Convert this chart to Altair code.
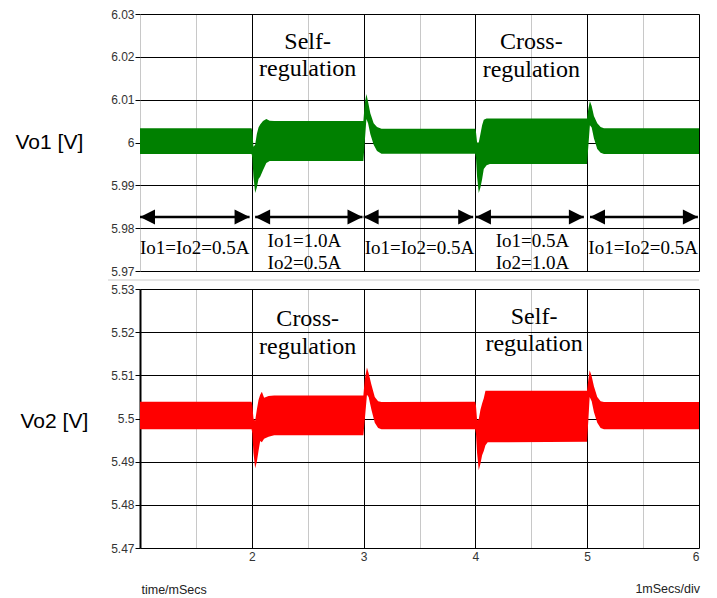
import altair as alt
import pandas as pd

# ---------------- data ----------------
# Vo1 ripple envelope (lower / upper edge of the dense waveform)
t1 = [1.0, 1.998, 2.005, 2.015, 2.03, 2.045, 2.06, 2.075, 2.1, 2.13, 2.16, 2.2,
      2.998, 3.01, 3.025, 3.04, 3.06, 3.09, 3.12, 3.16,
      3.998, 4.005, 4.015, 4.03, 4.045, 4.06, 4.075, 4.1, 4.13,
      4.998, 5.01, 5.024, 5.04, 5.06, 5.09, 5.12, 5.15, 6.0]
vo1_lo = [5.9973, 5.9973, 5.9965, 5.9920, 5.9882, 5.9895, 5.9915, 5.9920, 5.9935, 5.9952, 5.9957, 5.9957,
          5.9957, 6.0000, 6.0055, 6.0045, 6.0020, 5.9995, 5.9980, 5.9974,
          5.9974, 5.9965, 5.9920, 5.9882, 5.9895, 5.9914, 5.9938, 5.9947, 5.9950,
          5.9950, 5.9990, 6.0040, 6.0035, 6.0010, 5.9985, 5.9976, 5.9973, 5.9973]
vo1_hi = [6.0033, 6.0033, 6.0025, 5.9990, 5.9995, 6.0020, 6.0035, 6.0042, 6.0050, 6.0055, 6.0051, 6.0050,
          6.0050, 6.0090, 6.0113, 6.0095, 6.0068, 6.0045, 6.0036, 6.0032,
          6.0032, 6.0025, 6.0000, 6.0000, 6.0020, 6.0040, 6.0053, 6.0056, 6.0056,
          6.0056, 6.0078, 6.0097, 6.0085, 6.0062, 6.0045, 6.0036, 6.0033, 6.0033]

# Vo2 ripple envelope
t2 = [1.0, 1.998, 2.005, 2.015, 2.03, 2.045, 2.06, 2.075, 2.09, 2.11, 2.15, 2.2,
      2.998, 3.01, 3.03, 3.045, 3.07, 3.1, 3.13, 3.16,
      3.998, 4.005, 4.015, 4.03, 4.045, 4.06, 4.075, 4.09, 4.11,
      4.998, 5.01, 5.022, 5.04, 5.06, 5.09, 5.12, 5.15, 6.0]
vo2_lo = [5.4975, 5.4975, 5.4965, 5.4920, 5.4885, 5.4900, 5.4925, 5.4948, 5.4945, 5.4953, 5.4958, 5.4961,
          5.4961, 5.4995, 5.5055, 5.5050, 5.5020, 5.4990, 5.4978, 5.4975,
          5.4975, 5.4965, 5.4920, 5.4880, 5.4895, 5.4915, 5.4925, 5.4938, 5.4945,
          5.4946, 5.4995, 5.5050, 5.5040, 5.5015, 5.4990, 5.4978, 5.4975, 5.4975]
vo2_hi = [5.5039, 5.5039, 5.5030, 5.5000, 5.4995, 5.5020, 5.5043, 5.5055, 5.5062, 5.5048, 5.5052, 5.5053,
          5.5053, 5.5090, 5.5118, 5.5105, 5.5078, 5.5050, 5.5040, 5.5038,
          5.5039, 5.5030, 5.4996, 5.4998, 5.5020, 5.5035, 5.5047, 5.5064, 5.5064,
          5.5064, 5.5090, 5.5112, 5.5098, 5.5075, 5.5050, 5.5040, 5.5038, 5.5038]

# load-step interval arrows and labels (top panel)
arrow_start = [1.0, 2.03, 3.0, 4.005, 5.025]
arrow_end = [1.98, 2.99, 3.98, 4.97, 5.99]
arrow_y = [5.9826, 5.9826, 5.9826, 5.9826, 5.9826]

load_x = [1.49, 2.47, 2.47, 3.5, 4.51, 4.51, 5.5]
load_y = [5.9754, 5.9769, 5.9719, 5.9754, 5.9769, 5.9719, 5.9754]
load_text = ["Io1=Io2=0.5A", "Io1=1.0A", "Io2=0.5A", "Io1=Io2=0.5A",
             "Io1=0.5A", "Io2=1.0A", "Io1=Io2=0.5A"]

# regulation annotations
top_ann_x = [2.5, 2.5, 4.5, 4.5]
top_ann_y = [6.0235, 6.0171, 6.0235, 6.0169]
top_ann_text = ["Self-", "regulation", "Cross-", "regulation"]
bot_ann_x = [2.5, 2.5, 4.525, 4.525]
bot_ann_y = [5.5231, 5.5165, 5.5236, 5.5172]
bot_ann_text = ["Cross-", "regulation", "Self-", "regulation"]

vo1_ticks = [5.97, 5.98, 5.99, 6.0, 6.01, 6.02, 6.03]
vo2_ticks = [5.47, 5.48, 5.49, 5.5, 5.51, 5.52, 5.53]
x_ticks = [1, 1.5, 2, 2.5, 3, 3.5, 4, 4.5, 5, 5.5, 6]

# ---------------- chart ----------------
SANS = "Liberation Sans"
SERIF = "Liberation Serif"
W = 559

df1 = pd.DataFrame({"t": t1, "lo": vo1_lo, "hi": vo1_hi})
df2 = pd.DataFrame({"t": t2, "lo": vo2_lo, "hi": vo2_hi})
arr = pd.DataFrame({"x1": arrow_start, "x2": arrow_end, "y": arrow_y})
lab = pd.DataFrame({"x": load_x, "y": load_y, "text": load_text})
ann1 = pd.DataFrame({"x": top_ann_x, "y": top_ann_y, "text": top_ann_text})
ann2 = pd.DataFrame({"x": bot_ann_x, "y": bot_ann_y, "text": bot_ann_text})

grid_color = alt.condition("datum.value > 1.25 && datum.value % 1 === 0",
                           alt.value("#000000"), alt.value("#c8c8c8"))

x_top = alt.X("t:Q", scale=alt.Scale(domain=[1, 6], nice=False, zero=False),
              axis=alt.Axis(values=x_ticks, labels=False, ticks=False, domain=False,
                            title=None, gridColor=grid_color, gridWidth=1, gridOpacity=1))
x_bot = alt.X("t:Q", scale=alt.Scale(domain=[1, 6], nice=False, zero=False),
              axis=alt.Axis(values=x_ticks, ticks=False, domain=False, format="~g",
                            labelExpr="datum.value > 1.25 && datum.value % 1 === 0 ? datum.label : ''",
                            labelFont=SANS, labelFontSize=12, labelColor="#333333", labelPadding=3,
                            title="time/mSecs", titleFont=SANS, titleFontSize=12.5,
                            titleFontWeight="normal", titleColor="#222222",
                            titleAnchor="start", titleAlign="left", titleBaseline="middle",
                            titleX=1, titleY=41,
                            gridColor=grid_color, gridWidth=1, gridOpacity=1))


def y_enc(domain, ticks, title, title_x, title_y, domain_line):
    return alt.Y("lo:Q", scale=alt.Scale(domain=domain, nice=False, zero=False),
                 axis=alt.Axis(values=ticks, format=".3~r", labelFont=SANS, labelFontSize=12,
                               labelColor="#333333", labelPadding=1, tickSize=5,
                               tickColor="#000000", gridColor="#000000", gridWidth=1,
                               gridOpacity=1, domain=domain_line, domainColor="#000000",
                               domainWidth=2, title=title, titleAngle=0, titleFont=SANS,
                               titleFontSize=21, titleFontWeight="normal",
                               titleColor="#000000", titleAlign="left",
                               titleBaseline="middle", titleX=title_x, titleY=title_y))


top_area = alt.Chart(df1).mark_area(color="#008000", opacity=1).encode(
    x=x_top,
    y=y_enc([5.97, 6.03], vo1_ticks, "Vo1 [V]", -125, 128, False),
    y2="hi:Q",
)
top_shaft = alt.Chart(arr).mark_rule(color="#000000", strokeWidth=2.5).encode(
    x="x1:Q", x2="x2:Q", y="y:Q")
top_lhead = alt.Chart(arr).mark_point(shape="M0,0L2,-1L2,1Z", filled=True, size=225,
                                      color="#000000", opacity=1).encode(x="x1:Q", y="y:Q")
top_rhead = alt.Chart(arr).mark_point(shape="M0,0L-2,-1L-2,1Z", filled=True, size=225,
                                      color="#000000", opacity=1).encode(x="x2:Q", y="y:Q")
top_lab = alt.Chart(lab).mark_text(font=SERIF, fontSize=19, color="#000000",
                                   baseline="middle", align="center").encode(
    x="x:Q", y="y:Q", text="text:N")
top_ann = alt.Chart(ann1).mark_text(font=SERIF, fontSize=24, color="#000000",
                                    baseline="middle", align="center").encode(
    x="x:Q", y="y:Q", text="text:N")

top = alt.layer(top_area, top_shaft, top_lhead, top_rhead, top_lab, top_ann).properties(
    width=W, height=257)

bot_area = alt.Chart(df2).mark_area(color="#ff0000", opacity=1).encode(
    x=x_bot,
    y=y_enc([5.47, 5.53], vo2_ticks, "Vo2 [V]", -120, 132, True),
    y2="hi:Q",
)
bot_ann = alt.Chart(ann2).mark_text(font=SERIF, fontSize=24, color="#000000",
                                    baseline="middle", align="center").encode(
    x="x:Q", y="y:Q", text="text:N")
bot_div = alt.Chart(pd.DataFrame({"x": [6.0], "y": [5.47], "text": ["1mSecs/div"]})).mark_text(
    font=SANS, fontSize=12.5, color="#222222", baseline="middle", align="right", dy=41, dx=1
).encode(x="x:Q", y="y:Q", text="text:N")
sep = alt.Chart(pd.DataFrame({"k": [0]})).mark_rule(color="#cccccc", strokeWidth=1).encode(
    x=alt.value(-32), x2=alt.value(W), y=alt.value(-9))

bot = alt.layer(bot_area, bot_ann, bot_div, sep).properties(width=W, height=259)

chart = alt.vconcat(top, bot, spacing=18, bounds="flush").properties(
    padding={"left": 7, "top": 0, "right": 5, "bottom": 5},
    background="#ffffff",
).configure_view(stroke=None)

chart.save("out.html", embed_options={"renderer": "svg", "actions": False})
